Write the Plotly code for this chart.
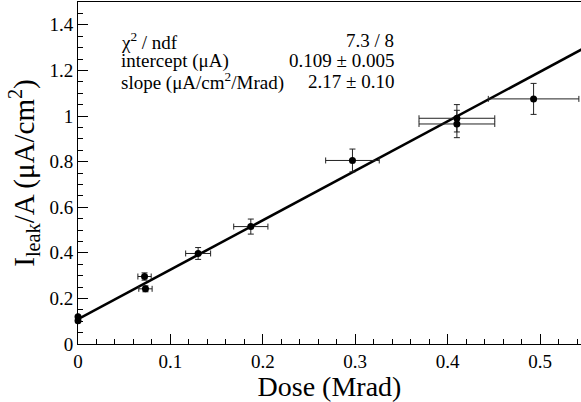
import numpy as np
import plotly.graph_objects as go

# ---- data ----
dose = [0.0, 0.0, 0.072, 0.073, 0.130, 0.187, 0.297, 0.410, 0.410, 0.493]
dose_err = [0.0, 0.0, 0.0072, 0.0072, 0.0135, 0.0185, 0.029, 0.041, 0.041, 0.049]
ileak = [0.120, 0.102, 0.296, 0.242, 0.397, 0.515, 0.805, 0.990, 0.965, 1.075]
ileak_err = [0.0, 0.0, 0.016, 0.013, 0.026, 0.033, 0.050, 0.060, 0.060, 0.068]

fit_intercept = 0.109
fit_slope = 2.17
fit_labels = ["χ<sup>2</sup> / ndf", "intercept (μA)", "slope (μA/cm<sup>2</sup>/Mrad)"]
fit_values = ["7.3 / 8", "0.109 ± 0.005", "2.17 ± 0.10"]

x_range = [0, 0.5443]
y_range = [0, 1.5]

FONT = "Liberation Serif"

fig = go.Figure()

xf = np.array([0.0, 0.6])
fig.add_trace(go.Scatter(
    x=xf, y=fit_intercept + fit_slope * xf, mode="lines",
    line=dict(color="black", width=2.6), showlegend=False, hoverinfo="skip"))

fig.add_trace(go.Scatter(
    x=dose, y=ileak, mode="markers",
    marker=dict(color="black", size=7),
    error_x=dict(type="data", array=dose_err, color="#222", thickness=1, width=3),
    error_y=dict(type="data", array=ileak_err, color="#222", thickness=1, width=3),
    cliponaxis=False, showlegend=False))

row_y = [1.33, 1.243, 1.153]
for lab, val, yy in zip(fit_labels, fit_values, row_y):
    fig.add_annotation(x=0.0445, y=yy, xref="x", yref="y", text=lab,
                       showarrow=False, xanchor="left", yanchor="middle",
                       font=dict(family=FONT, size=19, color="black"))
    fig.add_annotation(x=0.3445, y=yy, xref="x", yref="y", text=val,
                       showarrow=False, xanchor="right", yanchor="middle",
                       font=dict(family=FONT, size=19, color="black"))

fig.update_layout(
    width=581, height=402,
    margin=dict(l=77.5, r=0, t=2, b=58, autoexpand=False),
    plot_bgcolor="white", paper_bgcolor="white",
    font=dict(family=FONT, color="black"),
)
fig.update_xaxes(
    range=x_range, dtick=0.1, tick0=0, automargin=False,
    showgrid=False, zeroline=False,
    showline=True, linecolor="black", linewidth=1, mirror=True,
    ticks="inside", ticklen=10, tickwidth=1, tickcolor="black",
    minor=dict(ticks="inside", ticklen=5, dtick=0.02, tickcolor="black", showgrid=False),
    tickfont=dict(family=FONT, size=19, color="black"),
    title=dict(text="Dose (Mrad)", font=dict(family=FONT, size=28, color="black"), standoff=6),
)
fig.update_yaxes(
    range=y_range, dtick=0.2, tick0=0, automargin=False,
    showgrid=False, zeroline=False,
    showline=True, linecolor="black", linewidth=1,
    ticks="inside", ticklen=10, tickwidth=1, tickcolor="black",
    minor=dict(ticks="inside", ticklen=5, dtick=0.05, tickcolor="black", showgrid=False),
    tickfont=dict(family=FONT, size=19, color="black"),
    title=dict(text="I<sub>leak</sub>/A (μA/cm<sup>2</sup>)",
               font=dict(family=FONT, size=29, color="black"), standoff=6),
)

fig.write_html("out.html", config={"displayModeBar": False},
               post_script="document.body.style.margin='0';")
